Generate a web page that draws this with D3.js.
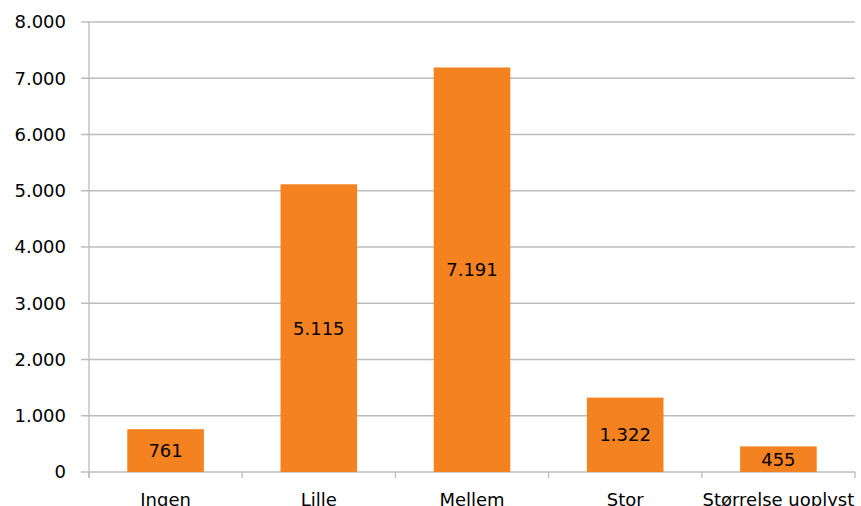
<!DOCTYPE html>
<html>
<head>
<meta charset="utf-8">
<script src="https://cdn.jsdelivr.net/npm/d3@7"></script>
<style>
body { margin: 0; background: #fff; overflow: hidden; }
text { font-family: "DejaVu Sans", Verdana, sans-serif; }
</style>
</head>
<body>
<svg id="chart" width="861" height="506"></svg>
<script>
// data
var categories = ["Ingen", "Lille", "Mellem", "Stor", "Størrelse uoplyst"];
var values = [761, 5115, 7191, 1322, 455];
var yTicks = [0, 1000, 2000, 3000, 4000, 5000, 6000, 7000, 8000];

var margin = {top: 22, right: 6, bottom: 34, left: 89};
var width = 861 - margin.left - margin.right;
var height = 506 - margin.top - margin.bottom;

var fmt = d3.formatLocale({decimal: ",", thousands: ".", grouping: [3], currency: ["", " kr"]}).format(",");

var svg = d3.select("#chart")
	.append("g")
	.attr("transform", "translate(" + margin.left + "," + margin.top + ")");

var xScale = d3.scaleBand()
	.domain(categories)
	.range([0, width])
	.paddingInner(0.5)
	.paddingOuter(0.25);

var yScale = d3.scaleLinear()
	.domain([0, 8000])
	.range([height, 0]);

// gridlines
svg.selectAll("line.grid")
	.data(yTicks)
	.enter()
	.append("line")
	.attr("class", "grid")
	.attr("x1", -8)
	.attr("x2", width)
	.attr("y1", function(d) { return yScale(d); })
	.attr("y2", function(d) { return yScale(d); })
	.attr("stroke", "#bcbcbc")
	.attr("stroke-width", 1.3);

// y labels
svg.selectAll("text.ylab")
	.data(yTicks)
	.enter()
	.append("text")
	.attr("class", "ylab")
	.attr("x", -23)
	.attr("y", function(d) { return yScale(d); })
	.attr("dy", "0.36em")
	.attr("text-anchor", "end")
	.attr("font-size", 18)
	.attr("fill", "#000")
	.text(function(d) { return fmt(d); });

// y axis line
svg.append("line")
	.attr("x1", 0).attr("x2", 0)
	.attr("y1", 0).attr("y2", height + 6)
	.attr("stroke", "#bcbcbc")
	.attr("stroke-width", 1.3);

// x ticks at band boundaries
var step = xScale.step();
var bounds = d3.range(categories.length + 1).map(function(i) { return i * width / categories.length; });
svg.selectAll("line.xtick")
	.data(bounds)
	.enter()
	.append("line")
	.attr("class", "xtick")
	.attr("x1", function(d) { return d; })
	.attr("x2", function(d) { return d; })
	.attr("y1", height)
	.attr("y2", height + 6)
	.attr("stroke", "#bcbcbc")
	.attr("stroke-width", 1.3);

// bars
svg.selectAll("rect.bar")
	.data(values)
	.enter()
	.append("rect")
	.attr("class", "bar")
	.attr("x", function(d, i) { return xScale(categories[i]); })
	.attr("y", function(d) { return yScale(d); })
	.attr("width", xScale.bandwidth())
	.attr("height", function(d) { return height - yScale(d); })
	.attr("fill", "#f58220");

// value labels
svg.selectAll("text.val")
	.data(values)
	.enter()
	.append("text")
	.attr("class", "val")
	.attr("x", function(d, i) { return xScale(categories[i]) + xScale.bandwidth() / 2; })
	.attr("y", function(d) { return (yScale(d) + height) / 2; })
	.attr("dy", "0.36em")
	.attr("text-anchor", "middle")
	.attr("font-size", 18)
	.attr("fill", "#000")
	.text(function(d) { return fmt(d); });

// category labels
svg.selectAll("text.cat")
	.data(categories)
	.enter()
	.append("text")
	.attr("class", "cat")
	.attr("x", function(d) { return xScale(d) + xScale.bandwidth() / 2; })
	.attr("y", height + 34)
	.attr("text-anchor", "middle")
	.attr("font-size", 18)
	.attr("fill", "#000")
	.text(function(d) { return d; });
</script>
</body>
</html>
